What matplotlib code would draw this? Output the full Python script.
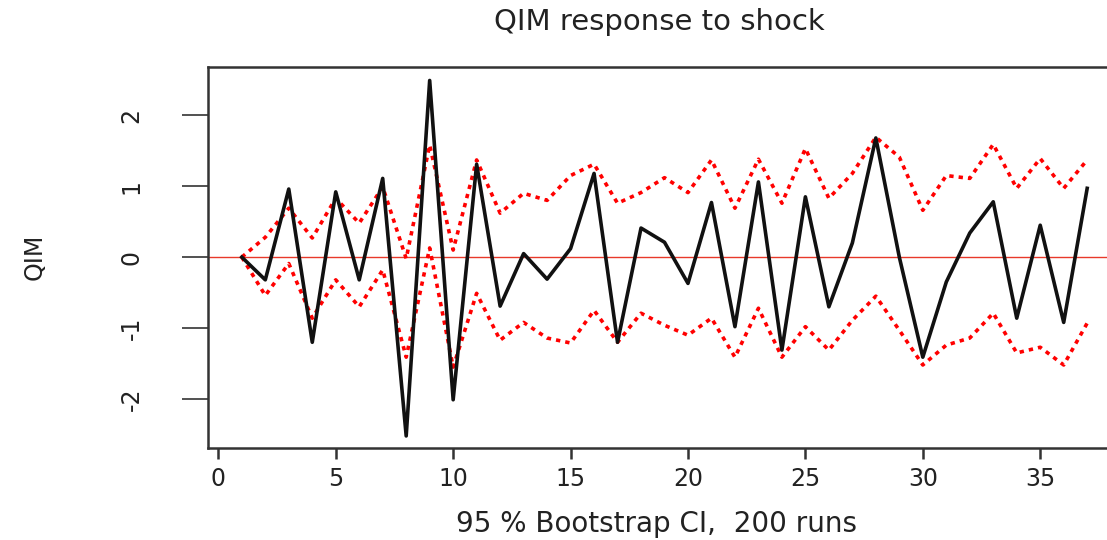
import matplotlib
matplotlib.use("Agg")
import matplotlib.pyplot as plt

plt.rcParams['font.family'] = ['DejaVu Sans']
plt.rcParams['axes.unicode_minus'] = False

# horizon steps
steps = list(range(1, 38))

# impulse response of QIM
irf = [0.00, -0.32, 0.96, -1.20, 0.92, -0.32, 1.11, -2.52, 2.49, -2.01,
       1.31, -0.69, 0.05, -0.31, 0.12, 1.18, -1.20, 0.41, 0.21, -0.37,
       0.77, -0.98, 1.06, -1.31, 0.85, -0.70, 0.20, 1.68, 0.00, -1.41,
       -0.35, 0.34, 0.78, -0.86, 0.45, -0.92, 0.97]

# bootstrap bands
upper = [0.00, 0.28, 0.69, 0.27, 0.83, 0.48, 0.99, -0.02, 1.58, 0.10,
         1.37, 0.62, 0.90, 0.80, 1.15, 1.31, 0.76, 0.91, 1.12, 0.91,
         1.37, 0.69, 1.38, 0.76, 1.53, 0.83, 1.18, 1.69, 1.41, 0.66,
         1.15, 1.11, 1.59, 0.97, 1.39, 0.97, 1.37]
lower = [0.00, -0.54, -0.09, -0.86, -0.32, -0.70, -0.18, -1.41, 0.13, -1.55,
         -0.51, -1.17, -0.92, -1.14, -1.21, -0.75, -1.20, -0.79, -0.96, -1.10,
         -0.86, -1.41, -0.72, -1.41, -0.98, -1.31, -0.89, -0.55, -1.03, -1.52,
         -1.24, -1.14, -0.79, -1.35, -1.27, -1.52, -0.93]

xticks = [0, 5, 10, 15, 20, 25, 30, 35]
yticks = [-2, -1, 0, 1, 2]

fig = plt.figure(figsize=(11.07, 5.4), dpi=100)
ax = fig.add_axes([208 / 1107, 1 - 448 / 540, 913 / 1107, 381 / 540])

ax.axhline(0, color='#e8392a', lw=1.0, zorder=1)
ax.plot(steps, upper, color='red', lw=2.6, linestyle=(0, (1.2, 1.4)), zorder=2)
ax.plot(steps, lower, color='red', lw=2.6, linestyle=(0, (1.2, 1.4)), zorder=2)
ax.plot(steps, irf, color='#111111', lw=2.6, zorder=3)

ax.set_xlim(-0.44, 38.44)
ax.set_ylim(-2.69, 2.68)
ax.set_xticks(xticks)
ax.set_yticks(yticks)
ax.set_yticklabels([str(v) for v in yticks])

for s in ['left', 'top', 'bottom']:
    ax.spines[s].set_color('#333333')
    ax.spines[s].set_linewidth(1.8)
ax.spines['right'].set_visible(False)

ax.tick_params(axis='x', length=8, width=1.8, color='#333333', pad=6,
               labelsize=17, labelcolor='#222222')
ax.tick_params(axis='y', length=19, width=1.2, color='#333333', pad=36,
               labelsize=17, labelcolor='#222222', labelrotation=90)
plt.setp(ax.get_yticklabels(), ha='center', va='center')

fig.text(659 / 1107, 1 - 22 / 540, 'QIM response to shock', ha='center', va='center',
         fontsize=21, color='#222222')
fig.text(657 / 1107, 1 - 524 / 540, '95 % Bootstrap CI,  200 runs', ha='center', va='center',
         fontsize=20, color='#222222')
fig.text(35 / 1107, 1 - 257 / 540, 'QIM', ha='center', va='center', rotation=90,
         fontsize=17, color='#222222')

fig.savefig('out.png', dpi=100)
